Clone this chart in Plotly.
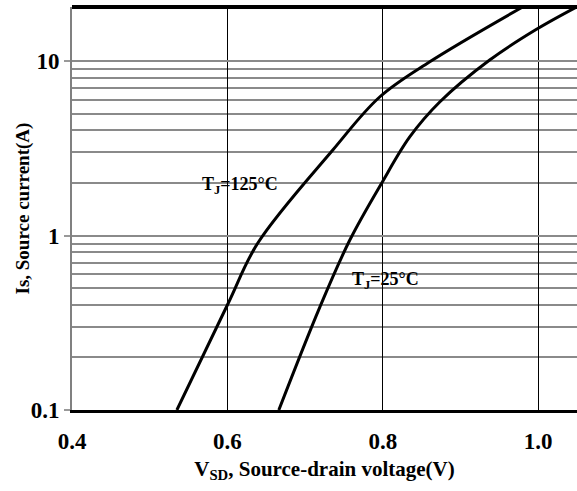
import plotly.graph_objects as go

v_125 = [0.535, 0.6006, 0.6392, 0.7357, 0.796, 0.860, 0.980]
i_125 = [0.1, 0.405, 0.906, 3.09, 6.22, 9.87, 20.4]
v_25 = [0.6662, 0.719, 0.7576, 0.7987, 0.8347, 0.8733, 0.9376, 0.9968, 1.0495]
i_25 = [0.1, 0.389, 0.942, 2.0, 3.67, 5.82, 10.13, 15.1, 20.4]

x_ticks = [0.4, 0.6, 0.8, 1.0]
x_labels = ["0.4", "0.6", "0.8", "1.0"]
y_ticks = [0.1, 1, 10]
y_labels = ["0.1", "1", "10"]
y_minor = [0.2, 0.3, 0.4, 0.5, 0.6, 0.7, 0.8, 0.9, 2, 3, 4, 5, 6, 7, 8, 9]

FONT = "Liberation Serif"

fig = go.Figure()
fig.add_trace(go.Scatter(x=v_125, y=i_125, mode="lines",
                         line=dict(color="black", width=3, shape="spline", smoothing=1.0)))
fig.add_trace(go.Scatter(x=v_25, y=i_25, mode="lines",
                         line=dict(color="black", width=3, shape="spline", smoothing=1.0)))

fig.update_layout(
    width=577, height=491,
    margin=dict(l=72, r=0, t=7, b=81),
    plot_bgcolor="white", paper_bgcolor="white",
    showlegend=False,
    font=dict(family=FONT, color="black"),
    xaxis=dict(
        range=[0.4, 1.05], tickvals=x_ticks, ticktext=x_labels,
        showgrid=True, gridcolor="black", gridwidth=1.3,
        showline=True, linecolor="black", linewidth=3,
        ticks="outside", ticklen=8, tickcolor="rgba(0,0,0,0)",
        zeroline=False,
        tickfont=dict(family=FONT, size=23, color="black", weight="bold"),
        title=dict(text="<b>V<sub>SD</sub>, Source-drain voltage(V)</b>",
                   font=dict(family=FONT, size=21, color="black"), standoff=9),
    ),
    yaxis=dict(
        type="log", range=[-1, 1.3096], tickvals=y_ticks, ticktext=y_labels,
        showgrid=True, gridcolor="#8a8a8a", gridwidth=1.5,
        showline=True, linecolor="#808080", linewidth=2,
        ticks="outside", ticklen=6, tickcolor="#999999", tickwidth=1.5,
        zeroline=False,
        minor=dict(tickvals=y_minor, showgrid=True, gridcolor="#8a8a8a", gridwidth=1.5, ticks=""),
        tickfont=dict(family=FONT, size=23, color="black", weight="bold"),
    ),
    shapes=[dict(type="line", xref="paper", yref="paper", x0=0, x1=1, y0=1, y1=1,
                 line=dict(color="black", width=4))],
    annotations=[
        dict(x=0, y=0.5, xref="paper", yref="paper", text="<b>Is, Source current(A)</b>",
             textangle=-90, showarrow=False, xanchor="center", yanchor="middle", xshift=-50,
             font=dict(family=FONT, size=19, color="black")),
        dict(x=0.6, y=0.288, xref="x", yref="y", text="<b>T<sub>J</sub>=125°C</b>",
             showarrow=False, xanchor="left", xshift=-27,
             font=dict(family=FONT, size=18, color="black")),
        dict(x=0.8, y=-0.255, xref="x", yref="y", text="<b>T<sub>J</sub>=25°C</b>",
             showarrow=False, xanchor="left", xshift=-33,
             font=dict(family=FONT, size=18, color="black")),
    ],
)

fig.write_html("out.html")
